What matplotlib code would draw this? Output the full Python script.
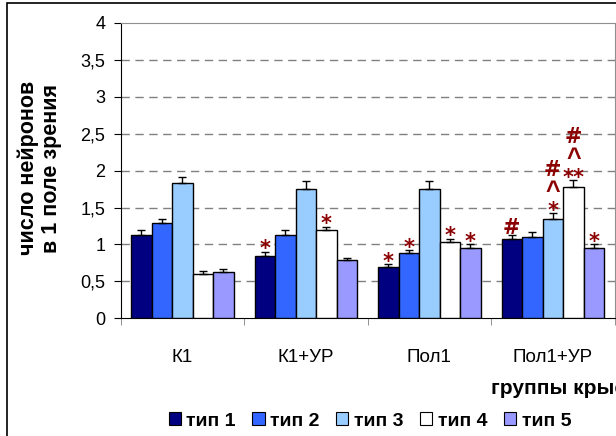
import numpy as np
import matplotlib
matplotlib.use('Agg')
import matplotlib.pyplot as plt
from matplotlib.patches import Rectangle

plt.rcParams['font.family'] = ['Liberation Sans', 'DejaVu Sans']

groups = ['К1', 'К1+УР', 'Пол1', 'Пол1+УР']
labels = ['тип 1', 'тип 2', 'тип 3', 'тип 4', 'тип 5']

tip1 = [1.13, 0.85, 0.70, 1.08]
tip2 = [1.29, 1.13, 0.88, 1.10]
tip3 = [1.83, 1.75, 1.75, 1.35]
tip4 = [0.60, 1.19, 1.03, 1.78]
tip5 = [0.63, 0.79, 0.95, 0.95]

err1 = [0.06, 0.05, 0.03, 0.05]
err2 = [0.06, 0.06, 0.04, 0.07]
err3 = [0.09, 0.11, 0.11, 0.07]
err4 = [0.04, 0.05, 0.05, 0.09]
err5 = [0.04, 0.03, 0.05, 0.05]

# significance marks, bottom -> top
marks1 = [[], ['*'], ['*'], ['#']]
marks2 = [[], [], ['*'], []]
marks3 = [[], [], [], ['*', '^', '#']]
marks4 = [[], ['*'], ['*'], ['**', '^', '#']]
marks5 = [[], [], ['*'], ['*']]

yticks = [0, 0.5, 1, 1.5, 2, 2.5, 3, 3.5, 4]
yticklabels = ['0', '0,5', '1', '1,5', '2', '2,5', '3', '3,5', '4']

colors = ['#000080', '#3366FF', '#99CCFF', '#FFFFFF', '#9999FF']
mark_color = '#8B0000'

values = [tip1, tip2, tip3, tip4, tip5]
errors = [err1, err2, err3, err4, err5]
marks = [marks1, marks2, marks3, marks4, marks5]

W, H = 616, 436
fig = plt.figure(figsize=(W / 100, H / 100), dpi=100)
ax = fig.add_axes([120.7 / W, 117.7 / H, (614.5 - 120.7) / W, (318.3 - 23) / H])

x = np.arange(len(groups))
bw = 0.166
# (font family, size, glyph middle in em) for each mark
mark_font = {'*': ('DejaVu Sans', 15, 0.55), '**': ('DejaVu Sans', 15, 0.55),
             '#': ('DejaVu Sans', 15, 0.36), '^': ('Liberation Sans', 18, 0.52)}
centers = [8, 27, 45]

for i in range(5):
    xs = x + (i - 2) * bw
    ax.bar(xs, values[i], bw, color=colors[i], edgecolor='black', linewidth=1, zorder=3)
    ax.errorbar(xs, values[i], yerr=[np.zeros(4), errors[i]], fmt='none',
                ecolor='black', elinewidth=1, capsize=3, capthick=1, zorder=4)
    for j in range(4):
        top = values[i][j] + errors[i][j]
        for k, s in enumerate(marks[i][j]):
            fam, fs, mid = mark_font[s]
            off = centers[k] - mid * fs * 100 / 72
            ax.annotate(s, (xs[j], top), xytext=(0, off), textcoords='offset pixels',
                        ha='center', va='baseline', color=mark_color,
                        fontsize=fs, fontweight='bold', family=fam, zorder=5)

ax.set_xlim(-0.5, 3.5)
ax.set_ylim(0, 4)
ax.set_yticks(yticks)
ax.set_yticklabels(yticklabels)
ax.set_xticks(x)
ax.set_xticklabels(groups)
ax.set_xticks(np.arange(-0.5, 3.6, 1), minor=True)
ax.tick_params(axis='x', which='major', length=0, pad=22, labelsize=13.5)
ax.tick_params(axis='x', which='minor', length=5, direction='out', color='#808080')
ax.tick_params(axis='y', length=5, direction='out', pad=6, labelsize=13)

for y in yticks[1:-1]:
    ax.axhline(y, color='#808080', linestyle=(0, (6, 4)), linewidth=1, zorder=1)

ax.spines['left'].set_color('black')
ax.spines['bottom'].set_color('black')
ax.spines['top'].set_color('#909090')
ax.spines['right'].set_color('#909090')

fig.text(40 / W, 1 - 168 / H, 'число нейронов\nв 1 поле зрения', fontsize=15.5,
         fontweight='bold', rotation=90, ha='center', va='center', linespacing=1.1)

# the axis title runs past the right edge in the original
fig.text(491 / W, 1 - 388 / H, 'группы крыс', fontsize=15, fontweight='bold',
         ha='left', va='center')

handles = [Rectangle((0, 0), 1, 1, facecolor=c, edgecolor='black', linewidth=0.8) for c in colors]
fig.legend(handles, labels, loc='center', bbox_to_anchor=(370 / W, 1 - 421 / H), ncol=5,
           frameon=False, handlelength=0.62, handleheight=0.62, handletextpad=0.3,
           columnspacing=0.85, borderpad=0, prop={'size': 14, 'weight': 'bold'})

fig.patches.append(Rectangle((7 / W, -0.1), 2, 1.1 - 3 / H, transform=fig.transFigure,
                             fill=False, edgecolor='black', linewidth=1.2))

fig.savefig('out.png', dpi=100)
